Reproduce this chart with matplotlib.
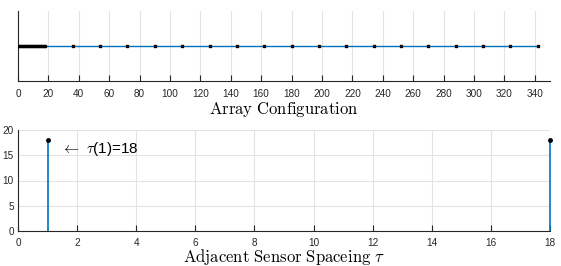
import numpy as np
import matplotlib
matplotlib.use("Agg")
import matplotlib.pyplot as plt

plt.rcParams['font.family'] = ['Liberation Sans', 'DejaVu Sans']
plt.rcParams['mathtext.fontset'] = 'cm'

# Data
dense_positions = list(range(0, 19))
sparse_positions = [36, 54, 72, 90, 108, 126, 144, 162, 180, 198, 216, 234, 252, 270, 288, 306, 324, 342]
sensor_positions = dense_positions + sparse_positions
spacing_values = [1, 18]
spacing_counts = [18, 18]

top_xticks = list(range(0, 341, 20))
bot_xticks = list(range(0, 19, 2))
bot_yticks = [0, 5, 10, 15, 20]

blue = '#0072BD'
W, H = 561, 266
fig = plt.figure(figsize=(W / 100, H / 100), dpi=100)

def pos(l, t, r, b):
    return [l / W, 1 - b / H, (r - l) / W, (b - t) / H]

# Top axes
ax1 = fig.add_axes(pos(18, 11, 550, 81))
ax1.plot(sensor_positions, np.zeros(len(sensor_positions)), color=blue, lw=1.0, zorder=2)
ax1.plot(sensor_positions, np.zeros(len(sensor_positions)), ls='none', marker='s',
         ms=2.0, color='black', zorder=3)
ax1.set_xlim(0, 350)
ax1.set_ylim(-1, 1)
ax1.set_yticks([])
ax1.set_xticks(top_xticks)
ax1.grid(axis='x', color='#e3e3e3', lw=0.8)
ax1.set_axisbelow(True)
for s in ['top', 'right']:
    ax1.spines[s].set_visible(False)
ax1.spines['left'].set_color('#262626')
ax1.spines['bottom'].set_color('#262626')
ax1.tick_params(axis='x', direction='in', length=4, labelsize=7.2, colors='#262626', pad=5.5)
ax1.set_xlabel(r'$\mathrm{Array\ Configuration}$', fontsize=12, labelpad=1.0)

# Bottom axes
ax2 = fig.add_axes(pos(18, 130, 550, 231))
for xv, yv in zip(spacing_values, spacing_counts):
    ax2.plot([xv, xv], [0, yv], color=blue, lw=1.2, zorder=2, clip_on=False)
ax2.plot(spacing_values, spacing_counts, ls='none', marker='o', ms=2.5, color='black',
         zorder=3, clip_on=False)
ax2.set_xlim(0, 18)
ax2.set_ylim(0, 20)
ax2.set_xticks(bot_xticks)
ax2.set_yticks(bot_yticks)
ax2.grid(True, color='#e3e3e3', lw=0.8)
ax2.set_axisbelow(True)
for s in ['top', 'right']:
    ax2.spines[s].set_visible(False)
ax2.spines['left'].set_color('#262626')
ax2.spines['bottom'].set_color('#262626')
ax2.tick_params(direction='in', length=4, labelsize=7.2, colors='#262626', pad=5)
ax2.tick_params(axis='y', length=0, pad=3)
ax2.set_xlabel(r'$\mathrm{Adjacent\ Sensor\ Spaceing}\ \tau$', fontsize=12, labelpad=-0.5)
ax2.text(1.45, 16.3, r'$\leftarrow\ \tau$(1)=18', fontsize=11, va='center', ha='left')

fig.savefig('out.png', dpi=100)
